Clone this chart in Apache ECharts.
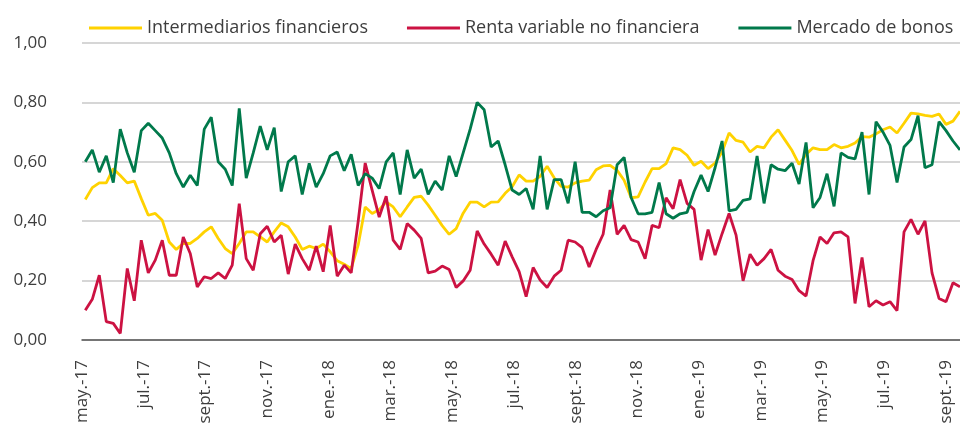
<!DOCTYPE html>
<html>
<head>
<meta charset="utf-8">
<title>Correlaciones</title>
<script src="https://cdn.jsdelivr.net/npm/echarts@6/dist/echarts.min.js"></script>
<style>
    html, body { margin: 0; padding: 0; background: #fff; }
    #chart { width: 960px; height: 441px; }
</style>
</head>
<body>
<div id="chart"></div>
<script>
// etiquetas del eje x (cada dos meses)
const tickLabels = ['may.-17', 'jul.-17', 'sept.-17', 'nov.-17', 'ene.-18', 'mar.-18', 'may.-18', 'jul.-18',
    'sept.-18', 'nov.-18', 'ene.-19', 'mar.-19', 'may.-19', 'jul.-19', 'sept.-19'];

const seriesNames = ['Intermediarios financieros', 'Renta variable no financiera', 'Mercado de bonos'];

// observaciones semanales
const intermediarios = [
    0.473, 0.513, 0.529, 0.529, 0.577, 0.554, 0.529, 0.535, 0.476, 0.420,
    0.426, 0.403, 0.330, 0.305, 0.325, 0.325, 0.342, 0.364, 0.381, 0.342,
    0.308, 0.291, 0.325, 0.364, 0.364, 0.347, 0.330, 0.364, 0.394, 0.381,
    0.347, 0.305, 0.316, 0.308, 0.323, 0.297, 0.267, 0.255, 0.240, 0.320,
    0.448, 0.426, 0.439, 0.465, 0.448, 0.415, 0.448, 0.480, 0.484, 0.454,
    0.420, 0.385, 0.356, 0.375, 0.427, 0.464, 0.464, 0.448, 0.464, 0.465,
    0.494, 0.516, 0.556, 0.535, 0.535, 0.551, 0.585, 0.546, 0.517, 0.515,
    0.529, 0.535, 0.538, 0.573, 0.586, 0.588, 0.571, 0.538, 0.479, 0.482,
    0.532, 0.577, 0.577, 0.594, 0.647, 0.641, 0.622, 0.588, 0.602, 0.577,
    0.596, 0.633, 0.697, 0.672, 0.666, 0.633, 0.652, 0.647, 0.683, 0.708,
    0.673, 0.638, 0.591, 0.625, 0.647, 0.641, 0.641, 0.658, 0.647, 0.652,
    0.663, 0.685, 0.683, 0.694, 0.708, 0.717, 0.697, 0.730, 0.764, 0.761,
    0.756, 0.753, 0.761, 0.726, 0.737, 0.770
];
const rentaVariable = [
    0.100, 0.137, 0.218, 0.062, 0.056, 0.022, 0.241, 0.132, 0.336, 0.226,
    0.269, 0.336, 0.218, 0.218, 0.347, 0.291, 0.179, 0.213, 0.207, 0.226,
    0.207, 0.252, 0.459, 0.274, 0.235, 0.358, 0.383, 0.330, 0.353, 0.222,
    0.323, 0.274, 0.235, 0.316, 0.230, 0.386, 0.215, 0.252, 0.226, 0.400,
    0.596, 0.504, 0.414, 0.484, 0.336, 0.305, 0.392, 0.370, 0.342, 0.226,
    0.232, 0.249, 0.237, 0.177, 0.199, 0.235, 0.367, 0.323, 0.289, 0.252,
    0.333, 0.280, 0.230, 0.146, 0.244, 0.202, 0.177, 0.215, 0.235, 0.336,
    0.330, 0.311, 0.246, 0.305, 0.356, 0.505, 0.356, 0.386, 0.338, 0.330,
    0.274, 0.386, 0.378, 0.479, 0.442, 0.540, 0.460, 0.440, 0.269, 0.372,
    0.286, 0.358, 0.426, 0.353, 0.199, 0.289, 0.252, 0.274, 0.305, 0.235,
    0.215, 0.204, 0.166, 0.148, 0.267, 0.347, 0.325, 0.361, 0.364, 0.347,
    0.123, 0.278, 0.112, 0.132, 0.118, 0.129, 0.099, 0.364, 0.406, 0.356,
    0.401, 0.226, 0.140, 0.129, 0.193, 0.179
];
const mercadoBonos = [
    0.600, 0.640, 0.565, 0.620, 0.530, 0.710, 0.630, 0.565, 0.705, 0.730,
    0.705, 0.680, 0.630, 0.560, 0.515, 0.555, 0.520, 0.710, 0.750, 0.600,
    0.575, 0.520, 0.780, 0.545, 0.630, 0.720, 0.640, 0.715, 0.500, 0.600,
    0.620, 0.490, 0.595, 0.515, 0.560, 0.620, 0.633, 0.570, 0.625, 0.520,
    0.560, 0.545, 0.510, 0.600, 0.630, 0.490, 0.640, 0.545, 0.575, 0.490,
    0.535, 0.505, 0.620, 0.550, 0.630, 0.710, 0.800, 0.775, 0.650, 0.670,
    0.590, 0.505, 0.490, 0.510, 0.440, 0.620, 0.440, 0.540, 0.540, 0.460,
    0.600, 0.430, 0.430, 0.415, 0.435, 0.445, 0.590, 0.615, 0.480, 0.425,
    0.425, 0.430, 0.530, 0.425, 0.410, 0.425, 0.430, 0.500, 0.555, 0.500,
    0.580, 0.670, 0.435, 0.440, 0.470, 0.475, 0.620, 0.460, 0.590, 0.575,
    0.570, 0.595, 0.525, 0.665, 0.445, 0.480, 0.560, 0.450, 0.630, 0.615,
    0.610, 0.700, 0.490, 0.735, 0.700, 0.655, 0.530, 0.650, 0.675, 0.755,
    0.580, 0.590, 0.735, 0.705, 0.670, 0.640
];

// posición de la primera etiqueta y separación (en semanas)
const xMin = -0.47;
const xStep = 8.82;

const font = '"Open Sans", sans-serif';
const textColor = '#3d3d3d';

function toPairs(values) {
    return values.map((v, i) => [i, v]);
}

const chart = echarts.init(document.getElementById('chart'));

chart.setOption({
    animation: false,
    textStyle: { fontFamily: font },
    grid: { left: 82, right: 0, top: 43, bottom: 101 },
    legend: {
        left: 84,
        top: 14,
        itemWidth: 53,
        itemHeight: 3,
        itemGap: 39,
        icon: 'rect',
        textStyle: { color: textColor, fontSize: 18, fontFamily: font },
        data: seriesNames
    },
    xAxis: {
        type: 'value',
        min: xMin,
        max: mercadoBonos.length - 1,
        interval: xStep,
        axisLine: { show: true, onZero: true, lineStyle: { color: '#555', width: 1.5 } },
        axisTick: { show: false },
        splitLine: { show: false },
        axisLabel: {
            rotate: 90,
            margin: 20,
            color: textColor,
            fontSize: 17,
            showMaxLabel: false,
            formatter: (v) => {
                const k = Math.round((v - xMin) / xStep);
                if (Math.abs(v - (xMin + k * xStep)) > 0.01) return '';
                return tickLabels[k] || '';
            }
        }
    },
    yAxis: {
        type: 'value',
        min: 0,
        max: 1,
        interval: 0.2,
        axisLine: { show: false },
        axisTick: { show: false },
        splitLine: { lineStyle: { color: '#c8c8c8', width: 1.5 } },
        axisLabel: {
            margin: 35,
            color: textColor,
            fontSize: 17,
            formatter: (v) => v.toFixed(2).replace('.', ',')
        }
    },
    series: [
        {
            name: seriesNames[0],
            type: 'line',
            data: toPairs(intermediarios),
            showSymbol: false,
            itemStyle: { color: '#FFD200' },
            lineStyle: { color: '#FFD200', width: 2.8 }
        },
        {
            name: seriesNames[1],
            type: 'line',
            data: toPairs(rentaVariable),
            showSymbol: false,
            itemStyle: { color: '#CC1242' },
            lineStyle: { color: '#CC1242', width: 2.8 }
        },
        {
            name: seriesNames[2],
            type: 'line',
            data: toPairs(mercadoBonos),
            showSymbol: false,
            itemStyle: { color: '#00794B' },
            lineStyle: { color: '#00794B', width: 2.8 }
        }
    ]
});

window.addEventListener('resize', () => chart.resize());
</script>
</body>
</html>
